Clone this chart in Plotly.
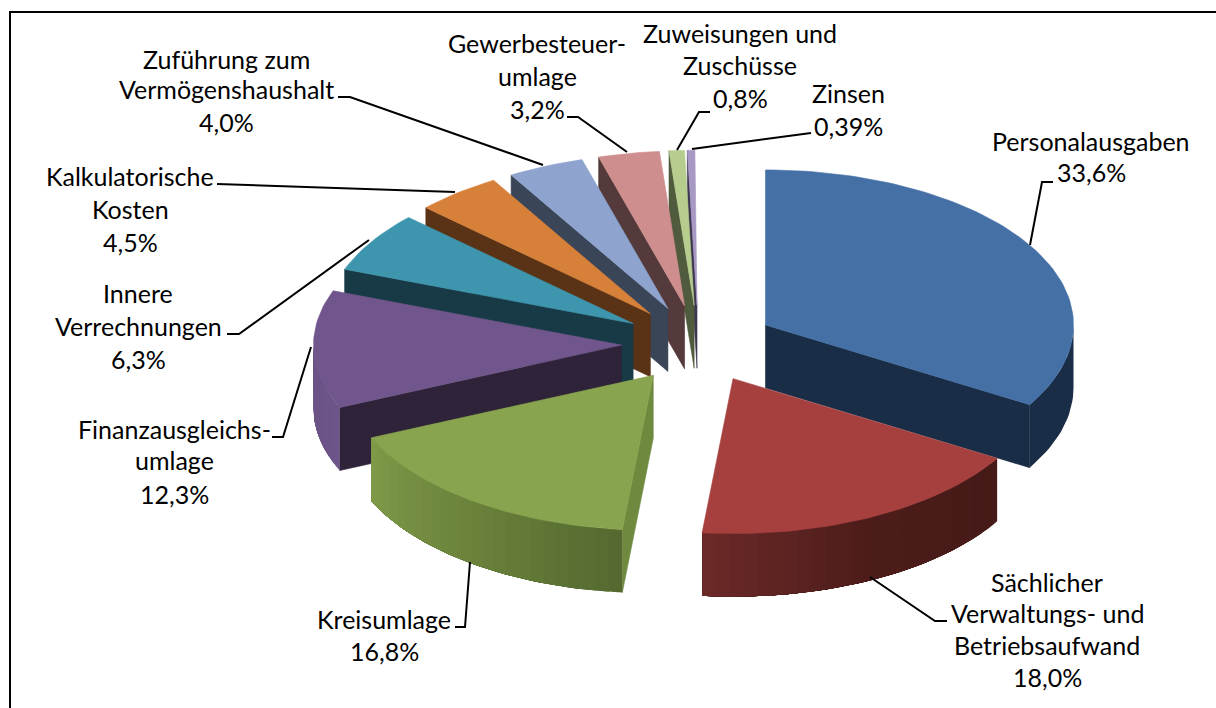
import numpy as np
import plotly.graph_objects as go

# --- data -------------------------------------------------------------
categories = ["Personalausgaben", "Sächlicher Verwaltungs- und Betriebsaufwand", "Kreisumlage",
              "Finanzausgleichsumlage", "Innere Verrechnungen", "Kalkulatorische Kosten",
              "Zuführung zum Vermögenshaushalt", "Gewerbesteuerumlage",
              "Zuweisungen und Zuschüsse", "Zinsen"]
values = [33.6, 18.0, 16.8, 12.3, 6.3, 4.5, 4.0, 3.2, 0.8, 0.39]
label_lines = [
    ["Personalausgaben", "33,6%"],
    ["Sächlicher", "Verwaltungs- und", "Betriebsaufwand", "18,0%"],
    ["Kreisumlage", "16,8%"],
    ["Finanzausgleichs-", "umlage", "12,3%"],
    ["Innere", "Verrechnungen", "6,3%"],
    ["Kalkulatorische", "Kosten", "4,5%"],
    ["Zuführung zum", "Vermögenshaushalt", "4,0%"],
    ["Gewerbesteuer-", "umlage", "3,2%"],
    ["Zuweisungen und", "Zuschüsse", "0,8%"],
    ["Zinsen", "0,39%"],
]

# --- styles -----------------------------------------------------------
top_colors = ["#4470A6", "#A5403F", "#89A44E", "#70568C", "#3E95AE", "#D6803A",
              "#8EA4CE", "#CE8E8D", "#B7CD8E", "#A898C4"]
cut_colors = ["#1A2D47", "#451A17", "#6F8A3F", "#2E2339", "#173A46", "#5A3316",
              "#3A4558", "#543A3A", "#4F5B3C", "#3D3650"]
# outer-wall colour at the start, middle and end of each slice's visible arc
wall_colors = [("#1A2D47", "#1A2D47", "#1A2D47"), ("#451A17", "#4C1C1A", "#6B2A28"),
               ("#54692F", "#6A823C", "#7F9A48"), ("#6E5589", "#6C5387", "#6A5285"),
               ("#173A46",) * 3, ("#5A3316",) * 3, ("#3A4558",) * 3, ("#543A3A",) * 3,
               ("#4F5B3C",) * 3, ("#3D3650",) * 3]

FONT = "Lato"
FONT_SIZE = 25
TEXT_COLOR = "#000000"
TEXT_DY = -1

# pie projection on the page axes
CX, CY = 698.5, 344
RX, RY = 308, 155
DEPTH = 63
EXPLODE = 0.25
TOTAL_PERCENT = 100

# label anchors: centre x, centre y of each line
label_pos = [
    (1091, [142, 173]),
    (1047, [583, 614, 646, 678]),
    (384, [620, 652]),
    (174, [430, 461, 495]),
    (138, [294, 327, 360]),
    (130, [177, 210, 243]),
    (226, [60, 90, 123]),
    (537, [44, 77, 110]),
    (740, [34, 66, 99]),
    (848, [94, 127]),
]
leaders = [
    [(1030, 245), (1042, 182), (1053, 182)],
    [(870, 577), (935, 621), (947, 621)],
    [(470, 562), (465, 627), (455, 627)],
    [(311, 347), (283, 437), (272, 437)],
    [(369, 240), (239, 334), (227, 334)],
    [(455, 192), (217, 184)],
    [(543, 165), (350, 97), (338, 97)],
    [(627, 152), (578, 117), (567, 117)],
    [(677, 150), (699, 112), (710, 112)],
    [(692, 149), (800, 134), (811, 133)],
]


def hex_rgb(h):
    return np.array([int(h[i:i + 2], 16) for i in (1, 3, 5)], dtype=float)


def ramp(stops, f):
    a, m, b = stops
    c = hex_rgb(a) + (hex_rgb(m) - hex_rgb(a)) * f * 2 if f < 0.5 else hex_rgb(m) + (hex_rgb(b) - hex_rgb(m)) * (f * 2 - 1)
    return "rgb(%d,%d,%d)" % tuple(np.round(c))


def poly(xs, ys, color, edge=0.6):
    return go.Scatter(x=list(xs), y=list(ys), mode="lines", fill="toself", fillcolor=color,
                      line=dict(color=color, width=edge), hoverinfo="skip", showlegend=False)


fracs = np.array(values) / TOTAL_PERCENT
edges = np.concatenate([[0], np.cumsum(fracs)]) * 2 * np.pi

slices = []
for i in range(len(values)):
    t0, t1 = edges[i], edges[i + 1]
    mid = (t0 + t1) / 2
    ax = CX + EXPLODE * RX * np.sin(mid)
    ay = CY - EXPLODE * RY * np.cos(mid)
    slices.append((ay, i, t0, t1, ax))

fig = go.Figure()
# frame: top and left rules only
fig.add_trace(go.Scatter(x=[10, 10, 1216], y=[708, 12, 12], mode="lines",
                         line=dict(color="#000000", width=2), hoverinfo="skip", showlegend=False))

# painter's order: slices furthest from the viewer first
for ay, i, t0, t1, ax in sorted(slices):
    ex = lambda t: ax + RX * np.sin(t)
    ey = lambda t: ay - RY * np.cos(t)
    # visible cut faces
    for t, vis in ((t0, np.sin(t0) < -1e-6), (t1, np.sin(t1) > 1e-6)):
        if vis:
            fig.add_trace(poly([ax, ex(t), ex(t), ax, ax],
                               [ay, ey(t), ey(t) + DEPTH, ay + DEPTH, ay], cut_colors[i]))
    # outer wall: the front half of the rim only; bands overlap to hide seams
    a, b = max(t0, np.pi / 2), min(t1, 3 * np.pi / 2)
    if b > a:
        stops = wall_colors[i]
        n = 1 if len(set(stops)) == 1 else max(2, int((b - a) / np.radians(2.5)))
        steps = np.linspace(a, b, n + 1)
        for k in range(n):
            ts = np.linspace(steps[k], b, max(4, int((b - steps[k]) / np.radians(1.5))))
            fig.add_trace(poly(list(ex(ts)) + list(ex(ts[::-1])),
                               list(ey(ts)) + list(ey(ts[::-1]) + DEPTH),
                               ramp(stops, (k + 0.5) / n), edge=0))
    # top face
    ts = np.linspace(t0, t1, max(3, int((t1 - t0) / np.radians(1.5))))
    fig.add_trace(poly([ax] + list(ex(ts)) + [ax], [ay] + list(ey(ts)) + [ay], top_colors[i]))

# leader lines
for pts in leaders:
    fig.add_trace(go.Scatter(x=[p[0] for p in pts], y=[p[1] for p in pts], mode="lines",
                             line=dict(color="#000000", width=2), hoverinfo="skip", showlegend=False))

# labels
annotations = []
for lines, (cx, ys) in zip(label_lines, label_pos):
    for text, y in zip(lines, ys):
        annotations.append(dict(x=cx, y=y + TEXT_DY, xref="x", yref="y", text=text, showarrow=False,
                                xanchor="center", yanchor="middle",
                                font=dict(family=FONT, size=FONT_SIZE, color=TEXT_COLOR)))

fig.update_layout(
    width=1216, height=708, autosize=False,
    margin=dict(l=0, r=0, t=0, b=0, pad=0),
    paper_bgcolor="#FFFFFF", plot_bgcolor="#FFFFFF",
    xaxis=dict(range=[0, 1216], visible=False, fixedrange=True),
    yaxis=dict(range=[708, 0], visible=False, fixedrange=True),
    annotations=annotations, showlegend=False,
)
fig.write_html("out.html", config={"displayModeBar": False},
               post_script="document.body.style.margin='0';document.body.style.overflow='hidden';")
